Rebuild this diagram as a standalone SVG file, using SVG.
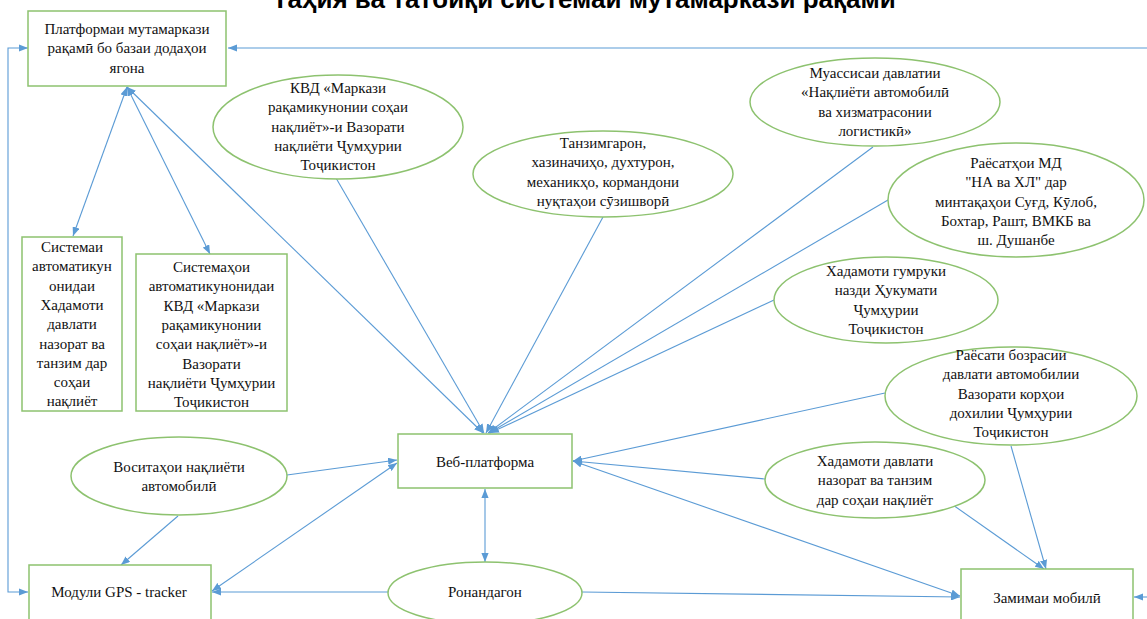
<svg xmlns="http://www.w3.org/2000/svg" width="1147" height="619" viewBox="0 0 1147 619">
<style>
.n{fill:#fff;stroke:#8dc26f;stroke-width:1.5}
.t{font-family:"Liberation Serif","Times New Roman",serif;font-size:15px;fill:#111;text-anchor:middle}
.c{fill:none;stroke:#5b9bd5;stroke-width:1.1}
.title{font-family:"Liberation Sans",Arial,sans-serif;font-size:26px;font-weight:bold;fill:#000;text-anchor:middle}
</style>
<defs>
<marker id="ah" viewBox="0 0 10 8" refX="10" refY="4" markerWidth="9" markerHeight="7.2" markerUnits="userSpaceOnUse" orient="auto-start-reverse"><path d="M0,0 L10,4 L0,8 z" fill="#5b9bd5"/></marker>
</defs>
<rect width="1147" height="619" fill="#fff"/>
<text class="title" x="584" y="8">Таҳия ва татбиқи системаи мутамаркази рақамӣ</text>

<g id="connectors">
<path class="c" d="M1147,48 L228,48" marker-end="url(#ah)"/>
<path class="c" d="M28,48 L8,48 L8,592 L28,592" marker-start="url(#ah)" marker-end="url(#ah)"/>
<path class="c" d="M127,87 L73,236" marker-start="url(#ah)" marker-end="url(#ah)"/>
<path class="c" d="M127,87 L210,254" marker-start="url(#ah)" marker-end="url(#ah)"/>
<path class="c" d="M127,87 L483,433" marker-start="url(#ah)" marker-end="url(#ah)"/>
<path class="c" d="M336,178 L484,433" marker-end="url(#ah)"/>
<path class="c" d="M603,217 L486,433" marker-end="url(#ah)"/>
<path class="c" d="M873,147 L488,433" marker-end="url(#ah)"/>
<path class="c" d="M888,200 L489,433" marker-end="url(#ah)"/>
<path class="c" d="M774,300 L490,433" marker-end="url(#ah)"/>
<path class="c" d="M885,393 L573,461" marker-end="url(#ah)"/>
<path class="c" d="M765,479 L573,461" marker-end="url(#ah)"/>
<path class="c" d="M573,461 L960,596" marker-start="url(#ah)" marker-end="url(#ah)"/>
<path class="c" d="M1011,446 L1046,569" marker-end="url(#ah)"/>
<path class="c" d="M953,505 L1044,569" marker-end="url(#ah)"/>
<path class="c" d="M582,592 L960,597" marker-end="url(#ah)"/>
<path class="c" d="M389,592 L212,592" marker-end="url(#ah)"/>
<path class="c" d="M485,489 L485,562" marker-start="url(#ah)" marker-end="url(#ah)"/>
<path class="c" d="M397,463 L212,591" marker-start="url(#ah)" marker-end="url(#ah)"/>
<path class="c" d="M178,516 L121,565" marker-end="url(#ah)"/>
<path class="c" d="M287,475 L397,460" marker-end="url(#ah)"/>
<path class="c" d="M1147,597 L1134,597" marker-end="url(#ah)"/>
</g>

<g id="platform">
<rect class="n" x="28" y="11" width="198" height="75"/>
<text class="t" x="127" y="34">Платформаи мутамаркази</text>
<text class="t" x="127" y="53">рақамӣ бо базаи додаҳои</text>
<text class="t" x="127" y="73">ягона</text>
</g>

<g id="sys-control">
<rect class="n" x="22" y="237" width="100" height="174"/>
<text class="t" x="72" y="252">Системаи</text>
<text class="t" x="72" y="271.3">автоматикун</text>
<text class="t" x="72" y="290.6">онидаи</text>
<text class="t" x="72" y="309.9">Хадамоти</text>
<text class="t" x="72" y="329.2">давлати</text>
<text class="t" x="72" y="348.5">назорат ва</text>
<text class="t" x="72" y="367.8">танзим дар</text>
<text class="t" x="72" y="387.1">соҳаи</text>
<text class="t" x="72" y="406.4">нақлиёт</text>
</g>

<g id="sys-kvd">
<rect class="n" x="136" y="254" width="151" height="157"/>
<text class="t" x="211.5" y="272">Системаҳои</text>
<text class="t" x="211.5" y="291.3">автоматикунонидаи</text>
<text class="t" x="211.5" y="310.6">КВД «Маркази</text>
<text class="t" x="211.5" y="329.9">рақамикунонии</text>
<text class="t" x="211.5" y="349.2">соҳаи нақлиёт»-и</text>
<text class="t" x="211.5" y="368.5">Вазорати</text>
<text class="t" x="211.5" y="387.8">нақлиёти Ҷумҳурии</text>
<text class="t" x="211.5" y="407.1">Тоҷикистон</text>
</g>

<g id="kvd">
<ellipse class="n" cx="338" cy="127" rx="125" ry="52"/>
<text class="t" x="338" y="93">КВД «Маркази</text>
<text class="t" x="338" y="112.3">рақамикунонии соҳаи</text>
<text class="t" x="338" y="131.6">нақлиёт»-и Вазорати</text>
<text class="t" x="338" y="150.9">нақлиёти Ҷумҳурии</text>
<text class="t" x="338" y="170.2">Тоҷикистон</text>
</g>

<g id="regulators">
<ellipse class="n" cx="603" cy="174" rx="130" ry="43"/>
<text class="t" x="603" y="148">Танзимгарон,</text>
<text class="t" x="603" y="167.3">хазиначиҳо, духтурон,</text>
<text class="t" x="603" y="186.6">механикҳо, кормандони</text>
<text class="t" x="603" y="205.9">нуқтаҳои сӯзишворӣ</text>
</g>

<g id="institution">
<ellipse class="n" cx="875" cy="102" rx="125" ry="44"/>
<text class="t" x="875" y="78">Муассисаи давлатии</text>
<text class="t" x="875" y="97.3">«Нақлиёти автомобилӣ</text>
<text class="t" x="875" y="116.6">ва хизматрасонии</text>
<text class="t" x="875" y="135.9">логистикӣ»</text>
</g>

<g id="regional">
<ellipse class="n" cx="1016" cy="200" rx="128" ry="57"/>
<text class="t" x="1016" y="168">Раёсатҳои МД</text>
<text class="t" x="1016" y="187.3">"НА ва ХЛ" дар</text>
<text class="t" x="1016" y="206.6">минтақаҳои Суғд, Кӯлоб,</text>
<text class="t" x="1016" y="225.9">Бохтар, Рашт, ВМКБ ва</text>
<text class="t" x="1016" y="245.2">ш. Душанбе</text>
</g>

<g id="customs">
<ellipse class="n" cx="886" cy="300" rx="112" ry="43"/>
<text class="t" x="886" y="276">Хадамоти гумруки</text>
<text class="t" x="886" y="295.3">назди Ҳукумати</text>
<text class="t" x="886" y="314.6">Ҷумҳурии</text>
<text class="t" x="886" y="333.9">Тоҷикистон</text>
</g>

<g id="inspection">
<ellipse class="n" cx="1011" cy="396" rx="126" ry="49"/>
<text class="t" x="1011" y="360">Раёсати бозрасии</text>
<text class="t" x="1011" y="379.3">давлати автомобилии</text>
<text class="t" x="1011" y="398.6">Вазорати корҳои</text>
<text class="t" x="1011" y="417.9">дохилии Ҷумҳурии</text>
<text class="t" x="1011" y="437.2">Тоҷикистон</text>
</g>

<g id="state-control">
<ellipse class="n" cx="875" cy="480" rx="110" ry="38"/>
<text class="t" x="875" y="466">Хадамоти давлати</text>
<text class="t" x="875" y="485.3">назорат ва танзим</text>
<text class="t" x="875" y="504.6">дар соҳаи нақлиёт</text>
</g>

<g id="vehicles">
<ellipse class="n" cx="179" cy="476" rx="108" ry="39"/>
<text class="t" x="179" y="472">Воситаҳои нақлиёти</text>
<text class="t" x="179" y="491.3">автомобилӣ</text>
</g>

<g id="web">
<rect class="n" x="398" y="434" width="174" height="54"/>
<text class="t" x="485" y="467">Веб-платформа</text>
</g>

<g id="gps">
<rect class="n" x="29" y="565" width="182" height="60"/>
<text class="t" x="119" y="597">Модули GPS - tracker</text>
</g>

<g id="drivers">
<ellipse class="n" cx="485" cy="593" rx="97" ry="31"/>
<text class="t" x="485" y="597">Ронандагон</text>
</g>

<g id="mobile">
<rect class="n" x="961" y="569" width="172" height="60"/>
<text class="t" x="1047" y="603">Замимаи мобилӣ</text>
</g>
</svg>
